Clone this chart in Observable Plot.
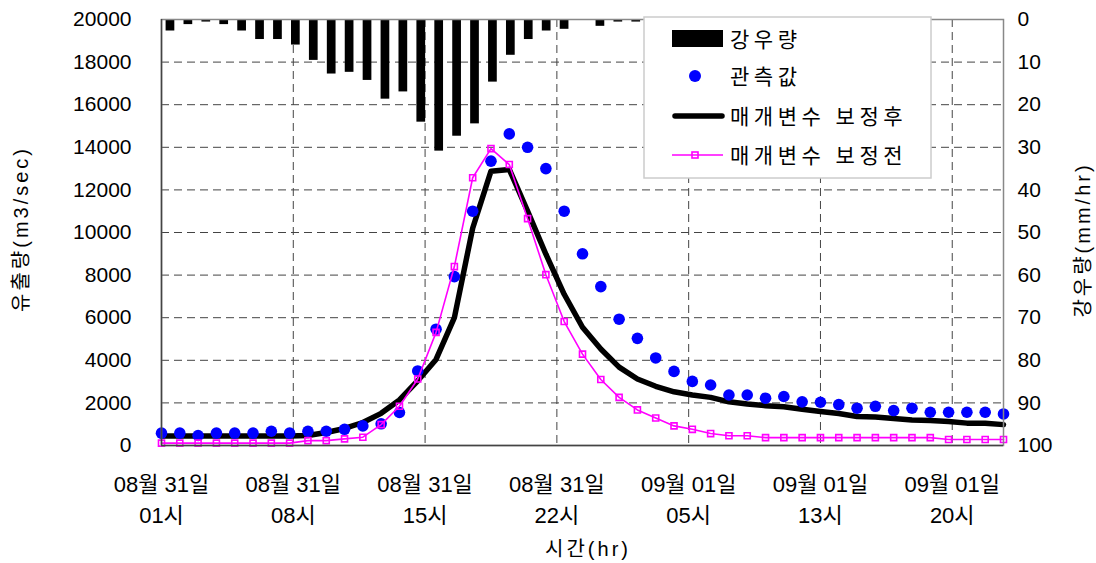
<!DOCTYPE html>
<html><head><meta charset="utf-8">
<script src="https://cdn.jsdelivr.net/npm/d3@7"></script>
<script src="https://cdn.jsdelivr.net/npm/@observablehq/plot@0.6"></script>
<style>
body{margin:0;background:#fff}
svg{font-family:"Liberation Sans","Noto Sans CJK KR",sans-serif}
</style>
</head><body><div id="chart"></div>
<script>
// hourly steps from 08/31 01:00
const hours = d3.range(47);
const observed = [580,580,470,580,580,580,670,580,670,670,760,920,1020,1550,3500,5460,7930,11000,13350,14630,14000,13000,11000,9000,7460,5930,5030,4110,3480,3010,2840,2370,2370,2220,2300,2050,2030,1920,1750,1840,1640,1750,1560,1560,1560,1560,1480];
const afterCal = [450,450,450,450,450,450,450,450,470,610,800,1080,1510,2140,3040,4040,6000,10200,12880,12960,11000,8980,7100,5550,4530,3680,3120,2780,2520,2370,2260,2050,1950,1870,1820,1700,1600,1500,1360,1340,1270,1200,1170,1130,1050,1050,980];
const beforeCal = [110,110,110,110,110,110,110,110,230,230,310,390,980,1840,3120,5310,8400,12570,13940,13190,10650,8020,5820,4290,3100,2260,1670,1290,920,760,560,460,460,370,370,370,370,370,370,370,370,370,370,280,280,280,280];
const rainfall = [2.7,1.2,0.6,1.2,2.7,4.7,4.7,6.0,9.6,12.8,12.4,14.3,18.7,17.0,24.1,30.9,27.4,24.5,14.7,8.4,4.7,2.7,2.3,0,1.6,0.6,0.6,0,0,0,0,0,0,0,0,0,0,0,0,0,0,0,0,0,0,0,0];
const tickHours = [0,7.2,14.4,21.6,28.8,36,43.2];
const tickDates = ["08월 31일","08월 31일","08월 31일","08월 31일","09월 01일","09월 01일","09월 01일"];
const tickTimes = ["01시","08시","15시","22시","05시","13시","20시"];
const flowTicks = [0,2000,4000,6000,8000,10000,12000,14000,16000,18000,20000];
const rainTicks = [0,10,20,30,40,50,60,70,80,90,100];
const seriesNames = ["강우량","관측값","매개변수 보정후","매개변수 보정전"];

const flowMax = 20000, rainMax = 100;
const rainToFlow = r => flowMax - r * flowMax / rainMax;

const rows = hours.map(h => ({h, obs: observed[h], after: afterCal[h], before: beforeCal[h]}));
const nBars = rainfall.length;
const bars = rainfall.map((r, j) => ({x1: j * 46 / nBars, x2: (j + 1) * 46 / nBars, y1: flowMax, y2: rainToFlow(r)}));

const grid = {stroke: "#444", strokeOpacity: 1, strokeDasharray: "8,5", strokeWidth: 1};

const chart = Plot.plot({
  width: 1096, height: 563,
  marginLeft: 161, marginRight: 93, marginTop: 19, marginBottom: 118,
  x: {type: "linear", domain: [0, 46]},
  y: {domain: [0, flowMax]},
  style: {fontSize: "21px", background: "#fff"},
  marks: [
    Plot.gridY(flowTicks.slice(1, -1), grid),
    Plot.gridX(tickHours.slice(1), grid),
    Plot.rect(bars, {x1: "x1", x2: "x2", y1: "y1", y2: "y2", fill: "#000", insetLeft: 4.6, insetRight: 4.6}),
    Plot.line(rows, {x: "h", y: "after", stroke: "#000", strokeWidth: 5.5}),
    Plot.dot(rows, {x: "h", y: "obs", r: 5.8, fill: "#0000ff", stroke: null}),
    Plot.line(rows, {x: "h", y: "before", stroke: "#ff00ff", strokeWidth: 1.6}),
    Plot.dot(rows, {x: "h", y: "before", symbol: "square", r: 3.4, stroke: "#ff00ff", fill: "none", strokeWidth: 1.6}),
    Plot.frame({stroke: "#888", strokeWidth: 1.5}),
    Plot.ruleX([0], {stroke: "#444", strokeWidth: 1.5}),
    Plot.ruleY([0], {stroke: "#444", strokeWidth: 1.5}),
    Plot.axisY(flowTicks, {anchor: "left", tickSize: 0, tickPadding: 30, fontSize: 21, label: null, fill: "#000",
      tickFormat: d => String(d)}),
    Plot.axisY(rainTicks.map(rainToFlow), {anchor: "right", tickSize: 0, tickPadding: 14, fontSize: 21, label: null, fill: "#000",
      tickFormat: d => String(Math.round((flowMax - d) * rainMax / flowMax))}),
    Plot.axisX(tickHours, {anchor: "bottom", tickSize: 0, tickPadding: 25, fontSize: 22, lineHeight: 1.4, label: null, fill: "#000",
      tickFormat: (d) => { const i = tickHours.indexOf(d); return tickDates[i] + "\n" + tickTimes[i]; }})
  ]
});
document.getElementById("chart").appendChild(chart);

const svg = d3.select(chart);
const txt = (x, y, s, rot) => {
  const t = svg.append("text").attr("font-size", 20).attr("letter-spacing", "3px").attr("fill", "#000")
    .attr("text-anchor", "middle").attr("dominant-baseline", "central").text(s);
  if (rot) t.attr("transform", `translate(${x},${y}) rotate(-90)`); else t.attr("x", x).attr("y", y);
  return t;
};
txt(21, 229, "유출량(m3/sec)", true);
txt(1083, 240, "강우량(mm/hr)", true);
txt(588, 549, "시간(hr)", false);

// legend
const lg = svg.append("g");
lg.append("rect").attr("x", 644).attr("y", 17).attr("width", 287).attr("height", 161)
  .attr("fill", "#fff").attr("stroke", "#ccc").attr("stroke-width", 1.5);
const ly = [39, 76, 116, 155];
lg.append("rect").attr("x", 672).attr("y", 30).attr("width", 51).attr("height", 17).attr("fill", "#000");
lg.append("circle").attr("cx", 695).attr("cy", ly[1]).attr("r", 6).attr("fill", "#0000ff");
lg.append("line").attr("x1", 675).attr("x2", 722).attr("y1", ly[2]).attr("y2", ly[2])
  .attr("stroke", "#000").attr("stroke-width", 5.5).attr("stroke-linecap", "round");
lg.append("line").attr("x1", 672).attr("x2", 723).attr("y1", ly[3]).attr("y2", ly[3])
  .attr("stroke", "#ff00ff").attr("stroke-width", 1.6);
lg.append("rect").attr("x", 692).attr("y", ly[3] - 3).attr("width", 6).attr("height", 6)
  .attr("fill", "none").attr("stroke", "#ff00ff").attr("stroke-width", 1.6);
seriesNames.forEach((s, i) => {
  lg.append("text").attr("x", 730).attr("y", ly[i]).attr("font-size", 21).attr("letter-spacing", "4.5px")
    .attr("text-anchor", "start").attr("dominant-baseline", "central").attr("fill", "#000").text(s);
});
</script>
</body></html>
